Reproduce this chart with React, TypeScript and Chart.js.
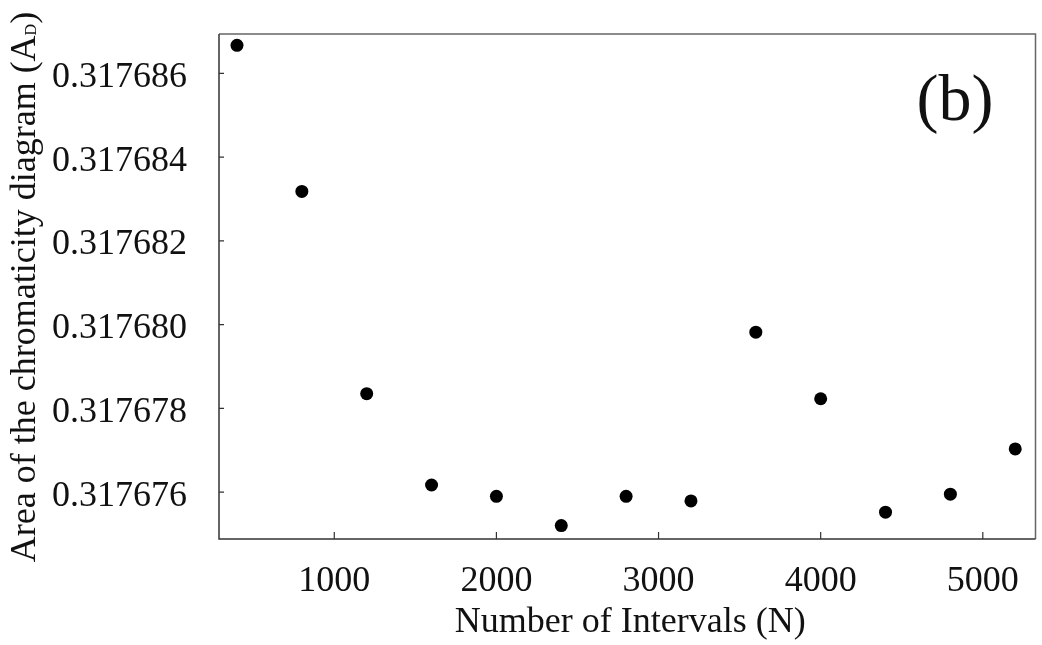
import React, { useEffect, useRef } from "react";
import { Chart, registerables } from "chart.js";

Chart.register(...registerables);

// ---- data ----
const intervals = [400, 800, 1200, 1600, 2000, 2400, 2800, 3200, 3600, 4000, 4400, 4800, 5200];
const areaValues = [
  0.31768667, 0.31768318, 0.31767835, 0.31767617, 0.3176759, 0.3176752, 0.3176759,
  0.31767579, 0.31767982, 0.31767823, 0.31767552, 0.31767595, 0.31767703,
];
const xTicks = [1000, 2000, 3000, 4000, 5000];
const yTicks = [0.317676, 0.317678, 0.31768, 0.317682, 0.317684, 0.317686];
const xTitle = "Number of Intervals (N)";
const yTitleMain = "Area of the chromaticity diagram (A";
const yTitleSub = "D";
const yTitleEnd = ")";
const panelLabel = "(b)";

const FONT = "'Liberation Serif', 'Times New Roman', serif";

const framePlugin = {
  id: "frame",
  afterDraw(chart: any) {
    const { ctx, chartArea, scales } = chart;
    const { left, right, top, bottom } = chartArea;
    ctx.save();
    // lighter top/right
    ctx.strokeStyle = "#666";
    ctx.lineWidth = 1.5;
    ctx.beginPath();
    ctx.moveTo(left, top);
    ctx.lineTo(right, top);
    ctx.lineTo(right, bottom);
    ctx.stroke();
    // darker left/bottom
    ctx.strokeStyle = "#333";
    ctx.beginPath();
    ctx.moveTo(left, top);
    ctx.lineTo(left, bottom);
    ctx.lineTo(right, bottom);
    ctx.stroke();
    // inward ticks
    ctx.lineWidth = 1.2;
    ctx.beginPath();
    xTicks.forEach((v) => {
      const px = scales.x.getPixelForValue(v);
      ctx.moveTo(px, bottom);
      ctx.lineTo(px, bottom - 7);
    });
    yTicks.forEach((v) => {
      const py = scales.y.getPixelForValue(v);
      ctx.moveTo(left, py);
      ctx.lineTo(left + 5, py);
    });
    ctx.stroke();

    ctx.fillStyle = "#111";
    // x title
    ctx.font = `36px ${FONT}`;
    ctx.textAlign = "center";
    ctx.textBaseline = "alphabetic";
    ctx.fillText(xTitle, (left + right) / 2 + 3, 632);

    // y title (rotated) with subscript
    const mainFont = `36px ${FONT}`;
    const subFont = `16px ${FONT}`;
    ctx.font = mainFont;
    const w1 = ctx.measureText(yTitleMain).width;
    const w3 = ctx.measureText(yTitleEnd).width;
    ctx.font = subFont;
    const w2 = ctx.measureText(yTitleSub).width;
    const total = w1 + w2 + w3;
    ctx.translate(35, 287);
    ctx.rotate(-Math.PI / 2);
    ctx.textAlign = "left";
    let x0 = -total / 2;
    ctx.font = mainFont;
    ctx.fillText(yTitleMain, x0, 0);
    x0 += w1;
    ctx.font = subFont;
    ctx.fillText(yTitleSub, x0, 1);
    x0 += w2;
    ctx.font = mainFont;
    ctx.fillText(yTitleEnd, x0, 0);
    ctx.setTransform(1, 0, 0, 1, 0, 0);

    // panel label
    ctx.font = `66px ${FONT}`;
    ctx.textAlign = "center";
    ctx.fillText(panelLabel, 955, 120);
    ctx.restore();
  },
};

export default function App() {
  const ref = useRef<HTMLCanvasElement | null>(null);
  useEffect(() => {
    if (!ref.current) return;
    const chart = new Chart(ref.current, {
      type: "scatter",
      data: {
        datasets: [
          {
            data: intervals.map((n, i) => ({ x: n, y: areaValues[i] })),
            backgroundColor: "#000",
            borderWidth: 0,
            pointRadius: 6.5,
            pointHoverRadius: 6.5,
          },
        ],
      },
      options: {
        animation: false,
        responsive: true,
        maintainAspectRatio: false,
        layout: { padding: { top: 34, right: 6, left: 0, bottom: 0 } },
        plugins: { legend: { display: false }, tooltip: { enabled: false } },
        scales: {
          x: {
            type: "linear",
            min: 289,
            max: 5325,
            afterBuildTicks: (axis: any) => {
              axis.ticks = xTicks.map((v) => ({ value: v }));
            },
            afterFit: (s: any) => {
              s.height = 106;
              s.paddingLeft = 0;
              s.paddingRight = 0;
            },
            grid: { display: false, drawTicks: false },
            border: { display: false },
            ticks: {
              font: { family: FONT, size: 36 },
              color: "#111",
              padding: 21,
              maxRotation: 0,
              autoSkip: false,
              callback: (v: any) => String(v),
            },
          },
          y: {
            type: "linear",
            min: 0.31767488,
            max: 0.31768694,
            afterBuildTicks: (axis: any) => {
              axis.ticks = yTicks.map((v) => ({ value: v }));
            },
            afterFit: (s: any) => {
              s.width = 219;
              s.paddingTop = 0;
              s.paddingBottom = 0;
            },
            grid: { display: false, drawTicks: false },
            border: { display: false },
            ticks: {
              font: { family: FONT, size: 36 },
              color: "#111",
              padding: 32,
              labelOffset: 4,
              autoSkip: false,
              callback: (v: any) => Number(v).toFixed(6),
            },
          },
        },
      },
      plugins: [framePlugin],
    });
    return () => chart.destroy();
  }, []);
  return (
    <div style={{ position: "absolute", left: 0, top: 0, width: 1042, height: 645, background: "#fff" }}>
      <canvas ref={ref} />
    </div>
  );
}
